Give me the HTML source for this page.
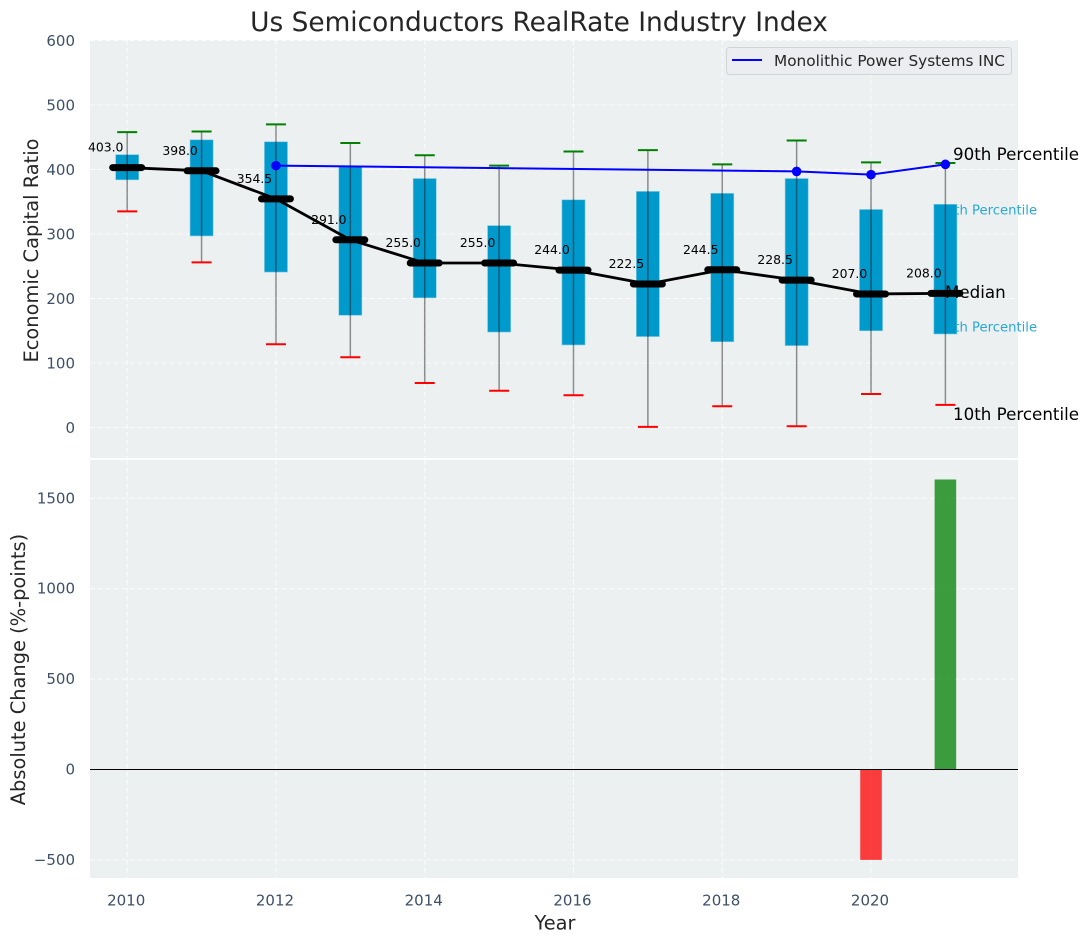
<!DOCTYPE html>
<html>
<head>
<meta charset="utf-8">
<title>Us Semiconductors RealRate Industry Index</title>
<style>
html,body{margin:0;padding:0;background:#fff;width:1088px;height:942px;overflow:hidden}
svg{display:block}
text{font-family:"DejaVu Sans","Liberation Sans",sans-serif}
</style>
</head>
<body>
<svg id="chart" xmlns="http://www.w3.org/2000/svg" width="1088" height="942" viewBox="0 0 1088 942">
  <rect x="90" y="40" width="928" height="418" fill="#ecf0f1"/>
  <rect x="90" y="460" width="928" height="418" fill="#ecf0f1"/>
  <g id="grid"></g>
  <g id="pct25">
    <text x="937.5" y="214.5" font-size="13.2" fill="#2aa8d5">75th Percentile</text>
    <text x="937.5" y="331.5" font-size="13.2" fill="#2aa8d5">25th Percentile</text>
  </g>
  <g id="marks"></g>
  <g id="ticks"></g>
  <text x="539" y="31" font-size="26.4" fill="#262626" text-anchor="middle">Us Semiconductors RealRate Industry Index</text>
  <text transform="translate(38,250.5) rotate(-90)" font-size="19.4" fill="#262626" text-anchor="middle">Economic Capital Ratio</text>
  <text transform="translate(25,669.5) rotate(-90)" font-size="19.4" fill="#262626" text-anchor="middle">Absolute Change (%-points)</text>
  <text x="555" y="929.5" font-size="19.4" fill="#262626" text-anchor="middle">Year</text>
  <text x="953" y="160" font-size="16.7" fill="#000">90th Percentile</text>
  <text x="945" y="298" font-size="16.7" fill="#000">Median</text>
  <text x="953" y="420" font-size="16.7" fill="#000">10th Percentile</text>
  <g>
    <rect x="726.5" y="47.5" width="285" height="27" rx="3" fill="#ecedf0" stroke="#d2d3d6" stroke-width="1"/>
    <line x1="732" y1="60" x2="762" y2="60" stroke="#0000ff" stroke-width="2"/>
    <text x="774" y="66" font-size="15.3" fill="#262626">Monolithic Power Systems INC</text>
  </g>
</svg>
<script>
const years = [2010,2011,2012,2013,2014,2015,2016,2017,2018,2019,2020,2021];
const p90 = [458,459,470,441,422,406,428,430,408,445,411,410];
const p75 = [423,446,443,404,386,313,353,366,363,386,338,346];
const medians = [403,398,354.5,291,255,255,244,222.5,244.5,228.5,207,208];
const p25 = [384,297,241,174,201,148,128,141,133,127,150,145];
const p10 = [335,256,129,109,69,57,50,1,33,2,52,35];
const company = [null,null,406,null,null,null,null,null,null,397,392,408];
const changes = [null,null,null,null,null,null,null,null,null,null,-500,1604];
const xTicks = [2010,2012,2014,2016,2018,2020];
const topTicks = [0,100,200,300,400,500,600];
const bottomTicks = [-500,0,500,1000,1500];

const NS = 'http://www.w3.org/2000/svg';
const xLo = 2009.5, xHi = 2021.976, pxL = 90, pxR = 1018;
const x = v => pxL + (v - xLo) / (xHi - xLo) * (pxR - pxL);
const yTop = v => 427.5 - v * 0.645;
const yBot = v => 769.5 - v * 0.1808;
const marks = document.getElementById('marks');
const gridG = document.getElementById('grid');
const ticksG = document.getElementById('ticks');

function mk(parent, tag, props) {
  const e = document.createElementNS(NS, tag);
  for (const k in props) e.setAttribute(k, props[k]);
  parent.appendChild(e);
  return e;
}
const fmtTick = v => (v < 0 ? '\u2212' + Math.abs(v) : String(v));

xTicks.forEach(t => {
  let g = mk(gridG, 'line', {x1:x(t), x2:x(t), y1:40, y2:458, stroke:'#fff', 'stroke-width':1, 'stroke-dasharray':'5 3', opacity:.85});
  
  
  g = mk(gridG, 'line', {x1:x(t), x2:x(t), y1:460, y2:878, stroke:'#fff', 'stroke-width':1, 'stroke-dasharray':'5 3', opacity:.85});
  
  
  const l = mk(ticksG, 'text', {x:x(t) - 1, y:905.5, 'font-size':15, fill:'#3d5068', 'text-anchor':'middle'});
  l.textContent = t;
  
  
});
topTicks.forEach(t => {
  const g = mk(gridG, 'line', {x1:90, x2:1018, y1:yTop(t), y2:yTop(t), stroke:'#fff', 'stroke-width':1, 'stroke-dasharray':'5 3', opacity:.85});
  
  
  const l = mk(ticksG, 'text', {x:75, y:yTop(t) + 5.5, 'font-size':15, fill:'#3d5068', 'text-anchor':'end'});
  l.textContent = fmtTick(t);
  
  
});
bottomTicks.forEach(t => {
  const g = mk(gridG, 'line', {x1:90, x2:1018, y1:yBot(t), y2:yBot(t), stroke:'#fff', 'stroke-width':1, 'stroke-dasharray':'5 3', opacity:.85});
  
  
  const l = mk(ticksG, 'text', {x:75, y:yBot(t) + 5, 'font-size':15, fill:'#3d5068', 'text-anchor':'end'});
  l.textContent = fmtTick(t);
  
  
});

const boxW = x(2010.31) - x(2010);
years.forEach((yr, i) => {
  const box = mk(marks, 'rect', {x:x(yr) - boxW / 2, y:yTop(p75[i]), width:boxW, height:yTop(p25[i]) - yTop(p75[i]), fill:'#0099cc', stroke:'#7cc8e2', 'stroke-width':.6});
  
  
});
years.forEach((yr, i) => {
  const w = mk(marks, 'line', {x1:x(yr), x2:x(yr), y1:yTop(p10[i]), y2:yTop(p90[i]), stroke:'#000', 'stroke-opacity':.42, 'stroke-width':1.5});
  
  
  const hi = mk(marks, 'line', {x1:x(yr) - 10, x2:x(yr) + 10, y1:yTop(p90[i]), y2:yTop(p90[i]), stroke:'#008000', 'stroke-width':2});
  
  
  const lo = mk(marks, 'line', {x1:x(yr) - 10, x2:x(yr) + 10, y1:yTop(p10[i]), y2:yTop(p10[i]), stroke:'#ff0000', 'stroke-width':2});
  
  
});

const medLine = mk(marks, 'polyline', {points:years.map((yr, i) => x(yr) + ',' + yTop(medians[i])).join(' '), fill:'none', stroke:'#000', 'stroke-width':2.8});


years.forEach((yr, i) => {
  const m = mk(marks, 'line', {x1:x(yr) - 14.5, x2:x(yr) + 14.5, y1:yTop(medians[i]), y2:yTop(medians[i]), stroke:'#000', 'stroke-width':7, 'stroke-linecap':'round'});
  
  
  const t = mk(marks, 'text', {x:x(yr) - 21.5, y:yTop(medians[i]) - 16, 'font-size':12.4, fill:'#000', 'text-anchor':'middle'});
  t.textContent = medians[i].toFixed(1);
  
  
});

const compIdx = years.map((_, i) => i).filter(i => company[i] !== null);
const compLine = mk(marks, 'polyline', {points:compIdx.map(i => x(years[i]) + ',' + yTop(company[i])).join(' '), fill:'none', stroke:'#0000ff', 'stroke-width':2});


compIdx.forEach(i => {
  const c = mk(marks, 'circle', {cx:x(years[i]), cy:yTop(company[i]), r:4.8, fill:'#0000ff'});
  
  
});

const barW = x(2010.29) - x(2010);
years.forEach((yr, i) => {
  if (changes[i] === null) return;
  const v = changes[i];
  const b = mk(marks, 'rect', {x:x(yr) - barW / 2, y:Math.min(yBot(v), yBot(0)), width:barW, height:Math.abs(yBot(v) - yBot(0)), fill:v < 0 ? '#ff0000' : '#008000', 'fill-opacity':.75});
  
  
});
const zero = mk(marks, 'line', {x1:90, x2:1018, y1:yBot(0), y2:yBot(0), stroke:'#000', 'stroke-width':1});


</script>
</body>
</html>
